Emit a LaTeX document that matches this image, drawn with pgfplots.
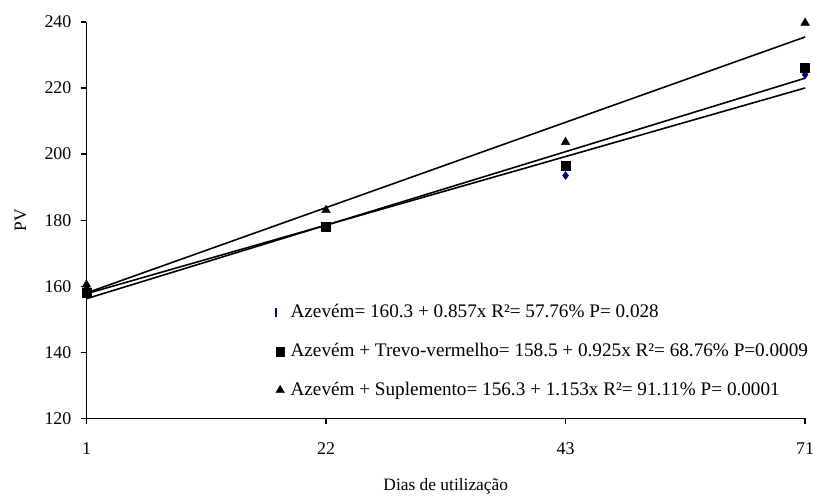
\documentclass[border=0pt]{standalone}
\usepackage{pgfplots}
\pgfplotsset{compat=1.18}
\usepackage{fontspec}
\setmainfont{Liberation Serif}
\definecolor{navy}{RGB}{0,0,128}
\begin{document}
\fontsize{18}{21}\selectfont
\begin{tikzpicture}
\begin{axis}[
  scale only axis, width=723pt, height=399pt,
  xmin=0, xmax=3, ymin=120, ymax=240,
  xtick={0,1,2,3}, xticklabels={1,22,43,71},
  ytick={120,140,...,240},
  axis lines*=left,
  tick align=outside, major tick length=6pt,
  tick style={black, line width=1.3pt},
  axis line style={line width=1.3pt},
  /pgf/number format/assume math mode=true,
  ticklabel style={font=\fontsize{18}{21}\selectfont},
  xticklabel style={yshift=-12pt},
  yticklabel style={xshift=-3pt},
  xlabel={Dias de utilização}, ylabel={PV},
  label style={font=\fontsize{17.5}{20}\selectfont},
  xlabel style={yshift=-12pt},
  ylabel style={yshift=6pt},
  clip=false,
  legend style={at={(rel axis cs:0.262,0.298)}, anchor=north west, draw=none, fill=none,
    font=\fontsize{19.3}{22}\selectfont, row sep=19pt, inner xsep=0pt},
  legend cell align=left,
]
% trendlines
\addplot[black, line width=1.6pt, forget plot] coordinates {(0,157.75) (3,220.0)};
\addplot[black, line width=1.6pt, forget plot] coordinates {(0,156.24) (3,222.96)};
\addplot[black, line width=1.6pt, forget plot] coordinates {(0,157.97) (3,235.43)};
% data
\addplot[only marks, mark=diamond*, mark size=4pt, color=navy,
  legend image code/.code={\draw[navy, line width=2pt] (0.15cm,-5pt) -- (0.15cm,4pt);}]
  coordinates {(0,160) (1,178) (2,193.5) (3,224)};
\addlegendentry{\hspace{4pt}Azevém= 160.3 + 0.857x R²= 57.76\% P= 0.028}
\addplot[only marks, mark=square*, mark size=4.5pt, color=black]
  coordinates {(0,158) (1,178) (2,196.4) (3,226)};
\addlegendentry{\hspace{4pt}Azevém + Trevo-vermelho= 158.5 + 0.925x R²= 68.76\% P=0.0009}
\addplot[only marks, mark=triangle*, mark size=5pt, color=black]
  coordinates {(0,160.5) (1,183) (2,203.6) (3,239.7)};
\addlegendentry{\hspace{4pt}Azevém + Suplemento= 156.3 + 1.153x R²= 91.11\% P= 0.0001}
\end{axis}
\path (current axis.south west) ++(-87pt,-76pt) coordinate (a);
\path (current axis.north east) ++(10pt,22pt) coordinate (b);
\useasboundingbox (a) rectangle (b);
\end{tikzpicture}
\end{document}
